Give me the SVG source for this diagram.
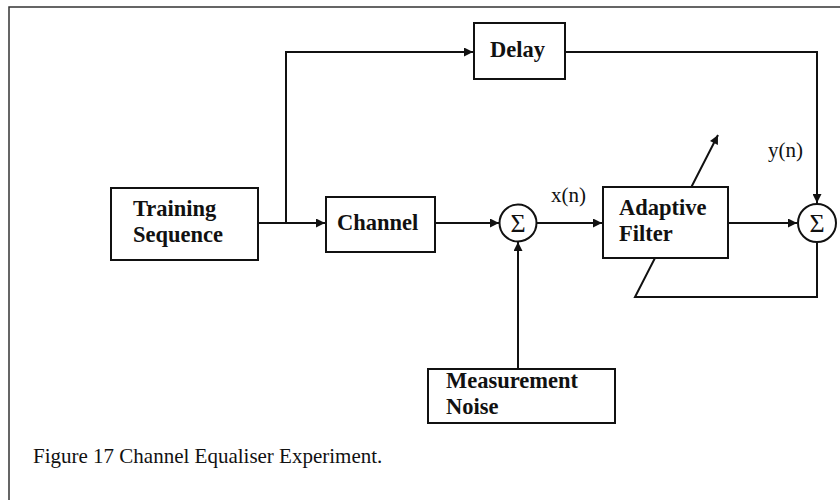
<svg xmlns="http://www.w3.org/2000/svg" width="840" height="500" viewBox="0 0 840 500">
<style>
.box{fill:#fff;stroke:#111;stroke-width:2}
.ln{fill:none;stroke:#111;stroke-width:2}
.lbl{font-family:"Liberation Serif","Times New Roman",serif;font-weight:bold;font-size:22.5px;fill:#111}
.sig{font-family:"Liberation Serif","Times New Roman",serif;font-size:21px;fill:#111}
.sum{font-family:"Liberation Serif","Times New Roman",serif;font-size:26px;fill:#111;text-anchor:middle}
</style>
<defs>
<marker id="ah" viewBox="0 0 10 10" refX="10" refY="5" markerWidth="11" markerHeight="9" markerUnits="userSpaceOnUse" orient="auto">
<path d="M0,0 L10,5 L0,10 Z" fill="#111"/>
</marker>
</defs>
<rect width="840" height="500" fill="#fff"/>
<g id="frame">
<path d="M9,500 V7 H840" fill="none" stroke="#333" stroke-width="1.5"/>
</g>
<g id="connectors">
<path class="ln" d="M258,223 H325" marker-end="url(#ah)"/>
<path class="ln" d="M286,223 V52 H473" marker-end="url(#ah)"/>
<path class="ln" d="M435,223 H499" marker-end="url(#ah)"/>
<path class="ln" d="M537,223 H602" marker-end="url(#ah)"/>
<path class="ln" d="M518,369 V242" marker-end="url(#ah)"/>
<path class="ln" d="M728,223 H797" marker-end="url(#ah)"/>
<path class="ln" d="M565,52 H817 V203" marker-end="url(#ah)"/>
<path class="ln" d="M817,242 V297 H635 L718,135" marker-end="url(#ah)"/>
</g>
<g id="training">
<rect class="box" x="111" y="188" width="147" height="72"/>
<text class="lbl" x="133" y="216">Training</text>
<text class="lbl" x="133" y="242">Sequence</text>
</g>
<g id="channel">
<rect class="box" x="326" y="197" width="109" height="55"/>
<text class="lbl" x="337" y="230">Channel</text>
</g>
<g id="delay">
<rect class="box" x="474" y="23" width="91" height="56"/>
<text class="lbl" x="490" y="57">Delay</text>
</g>
<g id="sum1">
<circle class="box" cx="518" cy="223" r="18.5"/>
<text class="sum" x="518" y="232">Σ</text>
</g>
<g id="filter">
<rect class="box" x="603" y="187" width="125" height="71"/>
<text class="lbl" x="619" y="215">Adaptive</text>
<text class="lbl" x="619" y="241">Filter</text>
</g>
<g id="sum2">
<circle class="box" cx="817" cy="223" r="19"/>
<text class="sum" x="817" y="232">Σ</text>
</g>
<g id="noise">
<rect class="box" x="428" y="369" width="187" height="54"/>
<text class="lbl" x="446" y="388">Measurement</text>
<text class="lbl" x="446" y="414">Noise</text>
</g>
<g id="labels">
<text class="sig" x="551" y="202">x(n)</text>
<text class="sig" x="768" y="157">y(n)</text>
<text class="sig" x="33" y="463">Figure 17 Channel Equaliser Experiment.</text>
</g>
</svg>
